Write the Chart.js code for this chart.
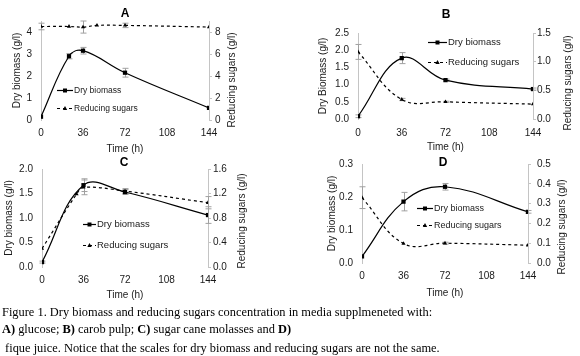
<!DOCTYPE html>
<html><head><meta charset="utf-8">
<script src="https://cdn.jsdelivr.net/npm/chart.js@4.4.0/dist/chart.umd.min.js"></script>
<style>
body{margin:0;background:#fff;width:580px;height:356px;position:relative;overflow:hidden}
canvas{position:absolute}
.cap{position:absolute;left:2px;font-family:"Liberation Serif","Times New Roman",serif;font-size:12.4px;line-height:14px;color:#000;white-space:pre}
</style></head><body>
<canvas id="cA" width="290" height="160" style="left:0;top:0;width:290px;height:160px"></canvas>
<canvas id="cB" width="290" height="160" style="left:290px;top:0;width:290px;height:160px"></canvas>
<canvas id="cC" width="290" height="165" style="left:0;top:140px;width:290px;height:165px"></canvas>
<canvas id="cD" width="290" height="165" style="left:290px;top:140px;width:290px;height:165px"></canvas>
<div class="cap" style="top:305px">Figure 1. Dry biomass and reducing sugars concentration in media supplmeneted with:</div>
<div class="cap" style="top:322px"><b>A)</b> glucose; <b>B)</b> carob pulp; <b>C)</b> sugar cane molasses and <b>D)</b></div>
<div class="cap" style="top:341px"> fique juice. Notice that the scales for dry biomass and reducing sugars are not the same.</div>
<script>
// ---------- data ----------
const timeTicks = [0, 36, 72, 108, 144];
const seriesNames = ['Dry biomass', 'Reducing sugars'];
const xTitle = 'Time (h)';

// A) glucose
const bioTimeA = [0, 24, 36, 72, 144];
const bioA     = [0.15, 2.9, 3.15, 2.15, 0.55];
const bioErrA  = [0, 0.12, 0.15, 0.2, 0];
const sugTimeA = [0, 24, 36, 48, 72, 144];
const sugA     = [8.5, 8.5, 8.45, 8.6, 8.6, 8.45];
const sugErrA  = [0.3, 0, 0.55, 0, 0.2, 0];
const leftTicksA = [0, 1, 2, 3, 4];
const rightTicksA = [0, 2, 4, 6, 8];

// B) carob pulp
const bioTimeB = [0, 36, 72, 144];
const bioB     = [0.08, 1.77, 1.13, 0.87];
const bioErrB  = [0.04, 0.16, 0.03, 0.03];
const sugTimeB = [0, 36, 72, 144];
const sugB     = [1.17, 0.34, 0.3, 0.26];
const sugErrB  = [0.13, 0.02, 0.01, 0];
const leftTicksB = [0, 0.5, 1.0, 1.5, 2.0, 2.5];
const rightTicksB = [0, 0.5, 1.0, 1.5];

// C) sugar cane molasses
const bioTimeC = [0, 36, 72, 144];
const bioC     = [0.1, 1.67, 1.53, 1.06];
const bioErrC  = [0.02, 0.13, 0.05, 0.17];
const sugTimeC = [0, 30, 36, 72, 144];
const sugC     = [0.3, 1.19, 1.3, 1.24, 1.05];
const sugErrC  = [0, 0, 0.12, 0.04, 0.1];
const leftTicksC = [0, 0.5, 1.0, 1.5, 2.0];
const rightTicksC = [0, 0.4, 0.8, 1.2, 1.6];

// D) fique juice
const bioTimeD = [0, 36, 72, 144];
const bioD     = [0.02, 0.186, 0.231, 0.155];
const bioErrD  = [0, 0.028, 0.01, 0.004];
const sugTimeD = [0, 36, 72, 144];
const sugD     = [0.33, 0.098, 0.1, 0.09];
const sugErrD  = [0.055, 0, 0.005, 0];
const leftTicksD = [0, 0.1, 0.2, 0.3];
const rightTicksD = [0, 0.1, 0.2, 0.3, 0.4, 0.5];

// ---------- drawing ----------
const FONT = '"Liberation Sans", Arial, sans-serif';
const INK = '#1a1a1a';
const AXIS = '#c4c4c4';

const deco = {
  id: 'deco',
  beforeDatasetsDraw(chart) {
    const ctx = chart.ctx, xs = chart.scales.x;
    chart.data.datasets.forEach(ds => {
      const ys = chart.scales[ds.yAxisID];
      ds.errors.forEach((e, j) => {
        if (!e) return;
        const p = ds.data[j];
        const x = Math.round(xs.getPixelForValue(p.x)) + 0.5;
        const y1 = ys.getPixelForValue(p.y - e), y2 = ys.getPixelForValue(p.y + e);
        ctx.save();
        ctx.strokeStyle = '#a0a0a0'; ctx.lineWidth = 1;
        ctx.beginPath();
        ctx.moveTo(x, y1); ctx.lineTo(x, y2);
        ctx.moveTo(x - 3, y1); ctx.lineTo(x + 3, y1);
        ctx.moveTo(x - 3, y2); ctx.lineTo(x + 3, y2);
        ctx.stroke(); ctx.restore();
      });
    });
  },
  afterDraw(chart, args, o) {
    const ctx = chart.ctx;
    ctx.save();
    // panel title
    ctx.fillStyle = '#000';
    ctx.font = 'bold 12px ' + FONT;
    ctx.textAlign = 'center'; ctx.textBaseline = 'middle';
    ctx.fillText(o.title, o.titleX, o.titleY);
    // right axis title (reads bottom to top)
    ctx.save();
    ctx.translate(o.rtX, o.rtY);
    ctx.rotate(-Math.PI / 2);
    ctx.font = '10px ' + FONT; ctx.fillStyle = INK;
    ctx.fillText(o.rightTitle, 0, 0);
    ctx.restore();
    // legend
    ctx.font = o.legFont + 'px ' + FONT;
    ctx.textAlign = 'left';
    chart.data.datasets.forEach((ds, i) => {
      const y = o.legY[i] + 0.5;
      ctx.strokeStyle = '#000'; ctx.lineWidth = 1.2;
      ctx.setLineDash(ds.borderDash || []);
      ctx.beginPath(); ctx.moveTo(o.legX0, y); ctx.lineTo(o.legX1, y); ctx.stroke();
      ctx.setLineDash([]);
      const cx = (o.legX0 + o.legX1) / 2;
      ctx.fillStyle = '#000';
      ctx.beginPath();
      if (ds.pointStyle === 'rect') {
        ctx.rect(cx - 2, y - 2, 4, 4);
      } else {
        ctx.moveTo(cx, y - 2.5); ctx.lineTo(cx + 2.2, y + 1.5); ctx.lineTo(cx - 2.2, y + 1.5); ctx.closePath();
      }
      ctx.fill();
      ctx.fillStyle = INK;
      ctx.fillText(ds.label, o.legX1 + 1, y);
    });
    ctx.restore();
  }
};

function makeChart(id, p) {
  const fmt = p.dec === 0 ? (v => String(v)) : (v => Number(v).toFixed(p.dec));
  const fmtR = p.decR === 0 ? (v => String(v)) : (v => Number(v).toFixed(p.decR));
  return new Chart(document.getElementById(id), {
    type: 'line',
    data: {
      datasets: [
        {
          label: seriesNames[0],
          data: p.bioT.map((t, i) => ({x: t, y: p.bio[i]})),
          errors: p.bioErr,
          yAxisID: 'y',
          borderColor: '#000', backgroundColor: '#000', borderWidth: 1.2,
          pointStyle: 'rect', pointRadius: 3, pointBorderWidth: 0,
          tension: 0.4, fill: false
        },
        {
          label: seriesNames[1],
          data: p.sugT.map((t, i) => ({x: t, y: p.sug[i]})),
          errors: p.sugErr,
          yAxisID: 'y1',
          borderColor: '#000', backgroundColor: '#000', borderWidth: 1.2,
          borderDash: [3, 3],
          pointStyle: 'triangle', pointRadius: 2.4, pointBorderWidth: 0,
          tension: 0.4, fill: false
        }
      ]
    },
    options: {
      responsive: false, animation: false, devicePixelRatio: 1,
      layout: {padding: {top: p.T, bottom: p.pb, left: 0, right: 0}},
      plugins: {
        legend: {display: false}, tooltip: {enabled: false},
        deco: p.deco
      },
      scales: {
        x: {
          type: 'linear', min: 0, max: 144,
          afterBuildTicks: s => { s.ticks = timeTicks.map(v => ({value: v})); },
          afterFit: s => { s.height = p.xH; },
          grid: {display: false, drawTicks: false},
          border: {display: false},
          ticks: {padding: p.xPad, color: INK, font: {family: FONT, size: 10}, maxRotation: 0, autoSkip: false},
          title: {display: true, text: xTitle, color: INK, font: {family: FONT, size: 10}, padding: {top: 0, bottom: 0}}
        },
        y: {
          position: 'left', min: 0, max: p.lMax,
          afterBuildTicks: s => { s.ticks = p.lTicks.map(v => ({value: v})); },
          afterFit: s => { s.width = p.lW; },
          grid: {display: false, drawTicks: false},
          border: {display: true, color: AXIS, width: 1},
          ticks: {padding: 9, color: INK, font: {family: FONT, size: 10}, callback: fmt},
          title: {display: true, text: p.leftTitle, color: INK, font: {family: FONT, size: 10}, padding: {top: p.ltPad, bottom: 0}}
        },
        y1: {
          position: 'right', min: 0, max: p.rMax,
          afterBuildTicks: s => { s.ticks = p.rTicks.map(v => ({value: v})); },
          afterFit: s => { s.width = p.rW; },
          grid: {display: true, drawOnChartArea: false, drawTicks: true, tickLength: 3, color: AXIS},
          border: {display: true, color: AXIS, width: 1},
          ticks: {padding: p.rPad, color: INK, font: {family: FONT, size: 10}, callback: fmtR}
        }
      }
    },
    plugins: [deco]
  });
}

makeChart('cA', {
  bioT: bioTimeA, bio: bioA, bioErr: bioErrA, sugT: sugTimeA, sug: sugA, sugErr: sugErrA,
  lTicks: leftTicksA, rTicks: rightTicksA, lMax: 4.5, rMax: 9, dec: 0, decR: 0,
  T: 21, pb: 5, xH: 35, xPad: 7, lW: 41, rW: 81, ltPad: 11, rPad: 3,
  leftTitle: 'Dry biomass (g/l)',
  deco: {title: 'A', titleX: 125, titleY: 14, rightTitle: 'Reducing sugars (g/l)', rtX: 232, rtY: 80,
         legX0: 57, legX1: 73, legY: [90, 108], legFont: 8.5}
});
makeChart('cB', {
  bioT: bioTimeB, bio: bioB, bioErr: bioErrB, sugT: sugTimeB, sug: sugB, sugErr: sugErrB,
  lTicks: leftTicksB, rTicks: rightTicksB, lMax: 2.5, rMax: 1.5, dec: 1, decR: 1,
  T: 33, pb: 7, xH: 34, xPad: 8, lW: 68, rW: 47, ltPad: 27, rPad: 1,
  leftTitle: 'Dry Biomass (g/l)',
  deco: {title: 'B', titleX: 156, titleY: 15, rightTitle: 'Reducing sugars (g/l)', rtX: 278, rtY: 83,
         legX0: 138, legX1: 157, legY: [42, 62], legFont: 9.5}
});
makeChart('cC', {
  bioT: bioTimeC, bio: bioC, bioErr: bioErrC, sugT: sugTimeC, sug: sugC, sugErr: sugErrC,
  lTicks: leftTicksC, rTicks: rightTicksC, lMax: 2.0, rMax: 1.6, dec: 1, decR: 1,
  T: 29, pb: 4, xH: 34, xPad: 7, lW: 42, rW: 82, ltPad: 3, rPad: 2,
  leftTitle: 'Dry biomass (g/l)',
  deco: {title: 'C', titleX: 124, titleY: 23, rightTitle: 'Reducing sugars (g/l)', rtX: 242, rtY: 81,
         legX0: 83, legX1: 96, legY: [84, 105], legFont: 9.5}
});
makeChart('cD', {
  bioT: bioTimeD, bio: bioD, bioErr: bioErrD, sugT: sugTimeD, sug: sugD, sugErr: sugErrD,
  lTicks: leftTicksD, rTicks: rightTicksD, lMax: 0.3, rMax: 0.5, dec: 1, decR: 1,
  T: 24, pb: 6, xH: 36, xPad: 7, lW: 72, rW: 52, ltPad: 36, rPad: 6,
  leftTitle: 'Dry biomass (g/l)',
  deco: {title: 'D', titleX: 153, titleY: 23, rightTitle: 'Reducing sugars (g/l)', rtX: 272, rtY: 87,
         legX0: 127, legX1: 143, legY: [68, 85], legFont: 9}
});
</script>
</body></html>
